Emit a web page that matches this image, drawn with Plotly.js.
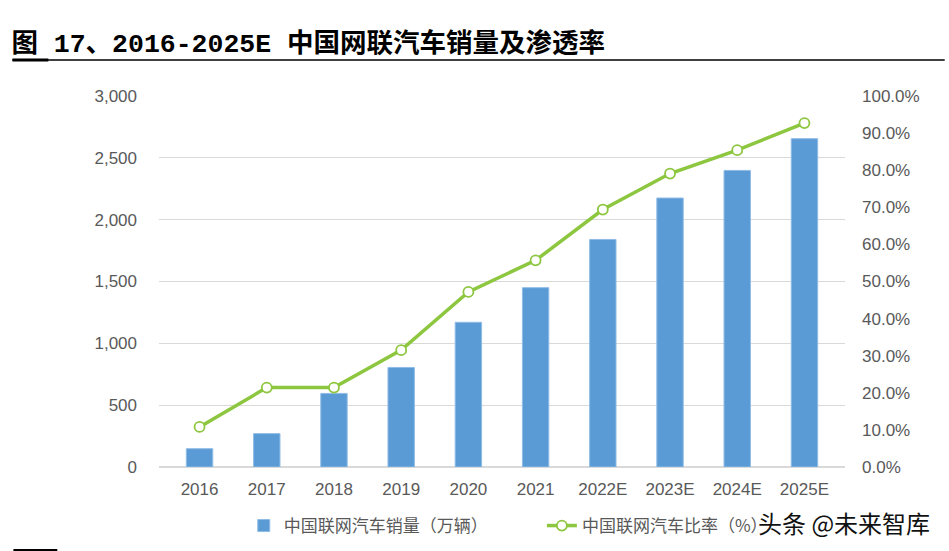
<!DOCTYPE html>
<html>
<head>
<meta charset="utf-8">
<script src="https://cdn.plot.ly/plotly-3.0.1.min.js"></script>
<style>
html,body{margin:0;padding:0;background:#fff;}
#chart{width:949px;height:551px;}
</style>
</head>
<body>
<div id="chart"></div>
<script>
const categories = ['2016','2017','2018','2019','2020','2021','2022E','2023E','2024E','2025E'];
const salesValues = [148, 270, 595, 805, 1170, 1450, 1840, 2175, 2398, 2655];
const penetrationRates = [0.108, 0.214, 0.214, 0.315, 0.472, 0.557, 0.694, 0.791, 0.854, 0.927];
const leftTicks = [0, 500, 1000, 1500, 2000, 2500, 3000];
const rightTicks = [0,0.1,0.2,0.3,0.4,0.5,0.6,0.7,0.8,0.9,1.0];
const barName = '中国联网汽车销量（万辆）';
const lineName = '中国联网汽车比率（%）';
const titleText = '图 17、2016-2025E 中国网联汽车销量及渗透率';
const watermark = '头条 @未来智库';

const tickFont = {family:'Liberation Sans, Arial, sans-serif', size:17, color:'#595959'};
const cjk = 'Noto Sans CJK SC, sans-serif';

const traces = [
  {
    type:'bar', x:categories, y:salesValues, name:barName,
    marker:{color:'#5B9BD5', line:{color:'#8FBCE6', width:1}},
    legend:'legend', hoverinfo:'skip'
  },
  {
    type:'scatter', mode:'lines+markers', x:categories, y:penetrationRates, name:lineName,
    yaxis:'y2', line:{color:'#8DC63F', width:3.5},
    marker:{symbol:'circle', size:10, color:'#FFFFFF', line:{color:'#8DC63F', width:1.8}},
    legend:'legend2', hoverinfo:'skip'
  }
];

const layout = {
  width:949, height:551,
  paper_bgcolor:'#FFFFFF', plot_bgcolor:'#FFFFFF',
  margin:{l:159, r:104, t:96, b:84, autoexpand:false},
  showlegend:true,
  bargap:0.607,
  title:{
    text:'<b>'+titleText+'</b>',
    font:{family:'Liberation Mono, Noto Sans CJK SC, monospace', size:26.5, color:'#000'},
    xref:'container', yref:'container', x:0.012, xanchor:'left', y:1-43/551, yanchor:'middle'
  },
  xaxis:{
    type:'category', showgrid:false, zeroline:false,
    showline:false, tickfont:tickFont, ticks:'', ticklen:0, ticklabelstandoff:10,
    automargin:false
  },
  yaxis:{
    range:[0,3000], tickvals:leftTicks, tickformat:',d',
    showgrid:true, gridcolor:'#D9D9D9', gridwidth:1.3, zeroline:true, zerolinecolor:'#D9D9D9', zerolinewidth:1.5,
    tickfont:tickFont, ticks:'', ticklabelstandoff:21, automargin:false, showline:false
  },
  yaxis2:{
    overlaying:'y', side:'right', range:[0,1], tickvals:rightTicks, tickformat:'.1%',
    showgrid:false, zeroline:false, tickfont:tickFont, ticks:'', ticklabelstandoff:16, automargin:false, showline:false
  },
  legend:{
    x:(244-159)/688, xanchor:'left', y:(467-526)/371, yanchor:'middle',
    orientation:'h', font:{family:cjk, size:17, color:'#595959'}, bgcolor:'rgba(0,0,0,0)'
  },
  legend2:{
    x:(543-159)/688, xanchor:'left', y:(467-526)/371, yanchor:'middle',
    orientation:'h', font:{family:cjk, size:17, color:'#595959'}, bgcolor:'rgba(0,0,0,0)'
  },
  annotations:[
    {text:watermark, xref:'paper', yref:'paper', x:(758-159)/688, xanchor:'left', y:(467-522)/371, yanchor:'middle',
     showarrow:false, font:{family:cjk, size:24, color:'#111111'}}
  ],
  shapes:[
    {type:'line', xref:'paper', yref:'paper', x0:(12-159)/688, x1:(947-159)/688, y0:(467-60)/371, y1:(467-60)/371,
     line:{color:'#000', width:1.5}},
    {type:'line', xref:'paper', yref:'paper', x0:(12-159)/688, x1:(48-159)/688, y0:(467-60)/371, y1:(467-60)/371,
     line:{color:'#000', width:3}},
    {type:'line', xref:'paper', yref:'paper', x0:(13-159)/688, x1:(57-159)/688, y0:(467-550)/371, y1:(467-550)/371,
     line:{color:'#000', width:2}}
  ]
};

Plotly.newPlot('chart', traces, layout, {staticPlot:true, displayModeBar:false});
</script>
</body>
</html>
